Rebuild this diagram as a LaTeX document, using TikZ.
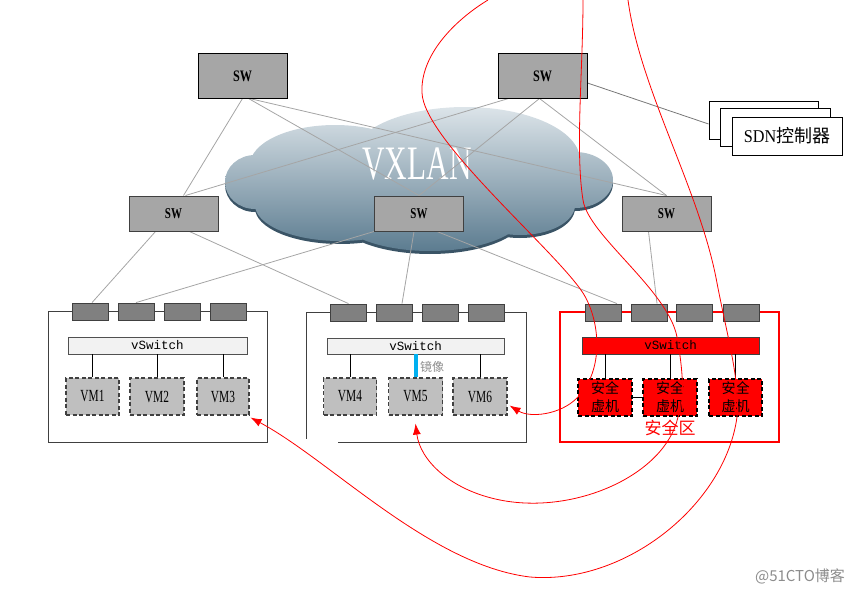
\documentclass[tikz,border=0pt]{standalone}
\usepackage{fontspec}
\usepackage{graphicx}
\setmainfont{Liberation Serif}
\newfontfamily\cjk{Noto Sans CJK SC}
\newfontfamily\monof{Liberation Mono}
\usetikzlibrary{arrows.meta,calc}
\newcommand\cnd[2]{\scalebox{#1}[1]{#2}}
\definecolor{swfill}{RGB}{166,166,166}
\definecolor{portfill}{RGB}{128,128,128}
\definecolor{dk}{RGB}{64,64,64}
\definecolor{vswline}{RGB}{80,80,80}
\definecolor{vswfill}{RGB}{242,242,242}
\definecolor{vmfill}{RGB}{191,191,191}
\definecolor{linkc}{RGB}{165,165,165}
\definecolor{linkd}{RGB}{120,120,120}
\definecolor{cloudtop}{RGB}{220,228,233}
\definecolor{cloudbot}{RGB}{92,124,144}
\definecolor{cloudrim}{RGB}{58,84,102}
\definecolor{mirror}{RGB}{0,176,240}
\definecolor{wmc}{RGB}{140,140,140}
\pgfdeclarelayer{bg}
\pgfsetlayers{bg,main}
\begin{document}
\begin{tikzpicture}[x=1pt,y=-1pt,
  swbox/.style={draw=black, line width=1pt, fill=swfill, inner sep=0pt, minimum width=89, minimum height=44, font=\fontsize{16}{16}\selectfont\bfseries},
  swmid/.style={swbox, draw=dk, minimum height=35, font=\fontsize{15}{15}\selectfont\bfseries},
  port/.style={draw=dk, fill=portfill, line width=0.8pt, inner sep=0pt, minimum width=36, minimum height=17},
  host/.style={draw=dk, line width=0.9pt, inner sep=0pt},
  vsw/.style={draw=vswline, fill=vswfill, line width=0.8pt, inner sep=0pt, minimum height=17, font=\monof\fontsize{12.5}{12.5}\selectfont},
  vm/.style={draw=dk, dash pattern=on 4pt off 2.5pt, line width=1.1pt, fill=vmfill, inner sep=0pt, minimum width=53, minimum height=37, font=\fontsize{17}{17}\selectfont},
  sec/.style={vm, draw=black, fill=red, minimum width=54, align=center, font=\cjk\fontsize{14}{18}\selectfont},
  sdn/.style={draw=black, line width=0.9pt, fill=white, inner sep=0pt, minimum width=110, minimum height=38},
  link/.style={draw=linkc, line width=0.8pt},
  tie/.style={draw=black, line width=0.8pt},
  flow/.style={draw=red, line width=0.8pt, -{Latex[length=11pt,width=8pt]}}
]
\useasboundingbox (0,0) rectangle (859,594);

% switches
\node[swbox] (sw1) at (242.5,76) {\cnd{0.76}{SW}};
\node[swbox] (sw2) at (542.5,76) {\cnd{0.76}{SW}};
\node[swmid] (sw3) at (173.5,213.5) {\cnd{0.73}{SW}};
\node[swmid] (sw4) at (419,213.5) {\cnd{0.73}{SW}};
\node[swmid] (sw5) at (666.5,213.5) {\cnd{0.73}{SW}};

% SDN controller stack
\node[sdn, minimum width=109] (sdn1) at (763.5,120) {};
\node[sdn] (sdn2) at (775,127.5) {};
\node[sdn] (sdn3) at (787,136) {\fontsize{18}{18}\selectfont\cnd{0.9}{SDN}{\cjk 控制器}};

% host 1
\node[host, minimum width=219, minimum height=131] (h1) at (157.5,376.5) {};
\node[port] (h1p1) at (90,311.5) {};
\node[port] (h1p2) at (136,311.5) {};
\node[port] (h1p3) at (182,311.5) {};
\node[port] (h1p4) at (228.5,311.5) {};
\node[vsw, minimum width=179] (vs1) at (157.5,345.5) {vSwitch};
\node[vm] (vm1) at (92.5,396.5) {\cnd{0.67}{VM1}};
\node[vm, minimum width=54] (vm2) at (157,396.5) {\cnd{0.67}{VM2}};
\node[vm, minimum width=52] (vm3) at (223,396.5) {\cnd{0.67}{VM3}};
\draw[tie] (vm1.north) -- (vm1.north |- vs1.south);
\draw[tie] (vm2.north) -- (vm2.north |- vs1.south);
\draw[tie] (vm3.north) -- (vm3.north |- vs1.south);

% host 2
\node[host, minimum width=220, minimum height=130] (h2) at (416,377) {};
\fill[white] (304,439) rectangle (338,445);
\node[port] (h2p1) at (348.5,312.5) {};
\node[port] (h2p2) at (394,312.5) {};
\node[port] (h2p3) at (440,312.5) {};
\node[port] (h2p4) at (486,312.5) {};
\node[vsw, minimum width=177, minimum height=16] (vs2) at (415.5,346) {vSwitch};
\node[vm] (vm4) at (350,396.5) {\cnd{0.67}{VM4}};
\node[vm, minimum width=54] (vm5) at (415.5,396.5) {\cnd{0.67}{VM5}};
\node[vm, minimum width=54] (vm6) at (480,396.5) {\cnd{0.67}{VM6}};
\draw[tie] (vm4.north) -- (vm4.north |- vs2.south);
\draw[tie] (vm6.north) -- (vm6.north |- vs2.south);
\draw[draw=mirror, line width=4pt] (vm5.north) -- (vm5.north |- vs2.south);
\node[text=wmc, font=\cjk\fontsize{12}{12}\selectfont] (mir) at (432,367) {镜像};

% host 3 (security zone)
\node[host, draw=red, line width=1.6pt, minimum width=219, minimum height=130] (h3) at (669.5,377) {};
\node[port] (h3p1) at (603,312.5) {};
\node[port] (h3p2) at (649,312.5) {};
\node[port] (h3p3) at (694.5,312.5) {};
\node[port] (h3p4) at (741,312.5) {};
\node[vsw, fill=red, draw=dk, minimum width=177] (vs3) at (670.5,345.5) {vSwitch};
\node[sec] (s1) at (605,397.5) {安全\\虚机};
\node[sec] (s2) at (670,397.5) {安全\\虚机};
\node[sec, minimum width=53] (s3) at (735.5,397.5) {安全\\虚机};
\draw[tie] (s1.north) -- (s1.north |- vs3.south);
\draw[tie] (s2.north) -- (s2.north |- vs3.south);
\draw[tie] (s3.north) -- (s3.north |- vs3.south);
\draw[tie] (s1.east) -- (s2.west);
\node[text=red, font=\cjk\fontsize{17}{17}\selectfont] (zone) at (670,428) {安全区};

% background: cloud and links
\begin{pgfonlayer}{bg}
\begin{scope}[shift={(0,3)}]
\fill[cloudrim] (255,182) ellipse [x radius=30, y radius=27]
  (335,165) ellipse [x radius=85, y radius=40]
  (465,160) ellipse [x radius=115, y radius=53]
  (575,180) ellipse [x radius=38, y radius=28]
  (340,205) ellipse [x radius=85, y radius=36]
  (430,212) ellipse [x radius=95, y radius=39]
  (520,205) ellipse [x radius=55, y radius=30];
\end{scope}
\shade[top color=cloudtop, bottom color=cloudbot] (255,182) ellipse [x radius=30, y radius=27]
  (335,165) ellipse [x radius=85, y radius=40]
  (465,160) ellipse [x radius=115, y radius=53]
  (575,180) ellipse [x radius=38, y radius=28]
  (340,205) ellipse [x radius=85, y radius=36]
  (430,212) ellipse [x radius=95, y radius=39]
  (520,205) ellipse [x radius=55, y radius=30];
\node[text=white, font=\fontsize{48}{48}\selectfont] (vx) at (417,164) {\cnd{0.65}{VXLAN}};

\draw[link] (sw1.south) -- ($(sw3.north)+(10,0)$);
\draw[link] ($(sw1.south)+(6,0)$) -- (sw4.north);
\draw[link] ($(sw1.south)+(7,0)$) -- (sw5.north);
\draw[link] ($(sw2.south)+(-34,0)$) -- ($(sw3.north)+(12,0)$);
\draw[link] ($(sw2.south)+(-3,0)$) -- (sw4.north);
\draw[link] ($(sw2.south)+(-3,0)$) -- (sw5.north);
\draw[link, draw=linkd] ($(sw2.east)+(0,7)$) -- ($(sdn1.west)+(0,4)$);
\draw[link] ($(sw3.south)+(-18,0)$) -- ($(h1p1.north)+(2,0)$);
\draw[link] ($(sw3.south)+(16,0)$) -- (h2p1.north);
\draw[link] (sw4.south west) -- (h1p2.north);
\draw[link] ($(sw4.south)+(-5,0)$) -- ($(h2p2.north)+(8,0)$);
\draw[link] ($(sw4.south)+(18,0)$) -- ($(h3p1.north)+(14,0)$);
\draw[link] ($(sw5.south)+(-18,0)$) -- ($(h3p2.north)+(8,0)$);
\end{pgfonlayer}

% red traffic-steering curves
\coordinate (r1) at (488,0);
\coordinate (r2) at (583,0);
\coordinate (r3) at (628,0);
\draw[flow] (r1) .. controls (455,20) and (420,55) .. (422,93)
  .. controls (424,140) and (555,250) .. (583,293)
  .. controls (600,320) and (605,370) .. (577,398)
  .. controls (560,415) and (530,418) .. ($(vm6.south east)+(2,-10)$);
\draw[flow] (r2) .. controls (583,70) and (575,150) .. (583,200)
  .. controls (588,235) and (668,290) .. (677,337)
  .. controls (683,370) and (685,400) .. (678,417)
  .. controls (665,475) and (575,515) .. (500,500)
  .. controls (450,490) and (420,460) .. ($(vm5.south)+(0,8)$);
\draw[flow] (r3) .. controls (640,90) and (700,190) .. (717,283)
  .. controls (728,340) and (740,380) .. (737,417)
  .. controls (725,505) and (625,585) .. (530,577)
  .. controls (430,565) and (330,460) .. ($(vm3.south east)+(1,2)$);

\node[text=wmc, font=\cjk\fontsize{15}{15}\selectfont] (wm) at (800,576) {@51CTO博客};
\end{tikzpicture}
\end{document}
